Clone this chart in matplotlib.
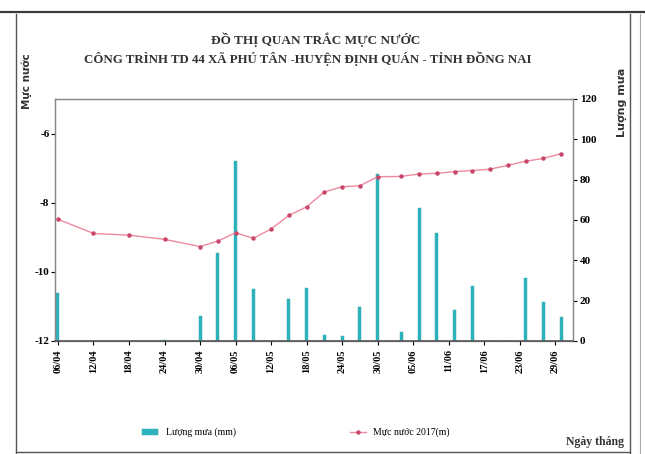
import pandas as pd
import matplotlib
matplotlib.use("Agg")
import matplotlib.pyplot as plt
import matplotlib.dates as mdates
from matplotlib.lines import Line2D

# Observation dates (2017), water level (m) and rainfall (mm)
dates = ["06/04", "12/04", "18/04", "24/04", "30/04", "03/05", "06/05", "09/05",
         "12/05", "15/05", "18/05", "21/05", "24/05", "27/05", "30/05", "03/06",
         "06/06", "09/06", "12/06", "15/06", "18/06", "21/06", "24/06", "27/06",
         "30/06"]
muc_nuoc = [-8.48, -8.89, -8.94, -9.06, -9.27, -9.11, -8.87, -9.03,
            -8.76, -8.37, -8.12, -7.69, -7.54, -7.51, -7.25, -7.24,
            -7.17, -7.15, -7.10, -7.07, -7.03, -6.92, -6.80, -6.72,
            -6.58]
luong_mua = [24, 0, 0, 0.5, 12.3, 43.5, 89, 26,
             0, 20.6, 26.5, 3, 2.3, 16.6, 83, 4.6,
             66, 53.6, 15.3, 27.2, 0, 0, 31.4, 19.3,
             12]
tick_labels = ["06/04", "12/04", "18/04", "24/04", "30/04", "06/05", "12/05",
               "18/05", "24/05", "30/05", "05/06", "11/06", "17/06", "23/06",
               "29/06"]

x = pd.to_datetime([d + "/2017" for d in dates], format="%d/%m/%Y")
xt = pd.to_datetime([d + "/2017" for d in tick_labels], format="%d/%m/%Y")

plt.rcParams['font.family'] = "Liberation Serif"
plt.rcParams['axes.unicode_minus'] = False

fig = plt.figure(figsize=(6.45, 4.54), dpi=100)
ax = fig.add_axes([0.0853, 0.249, 0.8031, 0.533])
ax2 = ax.twinx()

# rainfall bars on right axis
ax2.bar(x, luong_mua, width=0.5, color="#2db4bf", edgecolor="#2aa8b0",
        linewidth=0.3, label="Lượng mưa (mm)", zorder=2)
ax2.set_ylim(0, 120)
ax2.set_yticks(range(0, 121, 20))

# water level line on left axis
ax.plot(x, muc_nuoc, color="#ee8aa0", linewidth=1.0, marker="o",
        markersize=2.2, markerfacecolor="#c8466a", markeredgecolor="#c8466a",
        label="Mực nước 2017(m)", zorder=3)
ax.set_ylim(-12, -5)
ax.set_yticks([-12, -10, -8, -6])
ax.set_zorder(ax2.get_zorder() + 1)
ax.patch.set_visible(False)

ax.set_xlim(x[0] - pd.Timedelta(hours=12), x[0] + pd.Timedelta(days=87.0))
ax.set_xticks(xt)
ax.xaxis.set_major_formatter(mdates.DateFormatter("%d/%m"))
ax.tick_params(axis="x", labelrotation=90, labelsize=7.5, length=3, pad=3)
ax.tick_params(axis="y", labelsize=8, length=3, pad=1)
ax2.tick_params(axis="y", labelsize=8, length=3, pad=2)
for lbl in ax.get_xticklabels() + ax.get_yticklabels() + ax2.get_yticklabels():
    lbl.set_fontweight("bold")

for a in (ax, ax2):
    for s in a.spines.values():
        s.set_color("#8a8a8a")
        s.set_linewidth(0.9)
ax.spines["bottom"].set_color("#555555")
ax.spines["bottom"].set_linewidth(1.2)

# titles
fig.text(0.49, 0.912, "ĐỒ THỊ QUAN TRẮC MỰC NƯỚC", ha="center", va="center",
         fontsize=9.5, fontweight="bold", color="#333333")
fig.text(0.477, 0.87, "CÔNG TRÌNH TD 44 XÃ PHÚ TÂN -HUYỆN ĐỊNH QUÁN - TỈNH ĐỒNG NAI",
         ha="center", va="center", fontsize=9.3, fontweight="bold", color="#333333")

fig.text(0.042, 0.822, "Mực nước", rotation=90, ha="center", va="center",
         fontsize=7.5, fontweight="bold", family="DejaVu Sans", color="#333333")
fig.text(0.965, 0.775, "Lượng mưa", rotation=90, ha="center", va="center",
         fontsize=8, fontweight="bold", family="DejaVu Sans", color="#333333")
fig.text(0.922, 0.026, "Ngày tháng", ha="center", va="center",
         fontsize=8.5, fontweight="bold", color="#333333")

# legend
h1, l1 = ax2.get_legend_handles_labels()
h2, l2 = ax.get_legend_handles_labels()
fig.legend(h1, l1, loc="center", bbox_to_anchor=(0.293, 0.047), frameon=False,
           fontsize=7, handlelength=1.6, handleheight=0.5)
fig.legend(h2, l2, loc="center", bbox_to_anchor=(0.62, 0.047), frameon=False,
           fontsize=7, handlelength=1.6)

# page frame from the scan
frame = dict(transform=fig.transFigure, color="#555555", linewidth=1.0)
fig.add_artist(Line2D([0, 1], [0.973, 0.973], color="#3a3a3a", linewidth=1.6,
                      transform=fig.transFigure))
fig.add_artist(Line2D([0.025, 0.025], [0.0, 0.97], **frame))
fig.add_artist(Line2D([0.977, 0.977], [0.0, 0.97], **frame))
fig.add_artist(Line2D([0.992, 0.992], [0.0, 0.97], color="#aaaaaa",
                      linewidth=0.8, transform=fig.transFigure))
fig.add_artist(Line2D([0.025, 0.977], [0.004, 0.004], **frame))

fig.savefig("out.png", dpi=100)
